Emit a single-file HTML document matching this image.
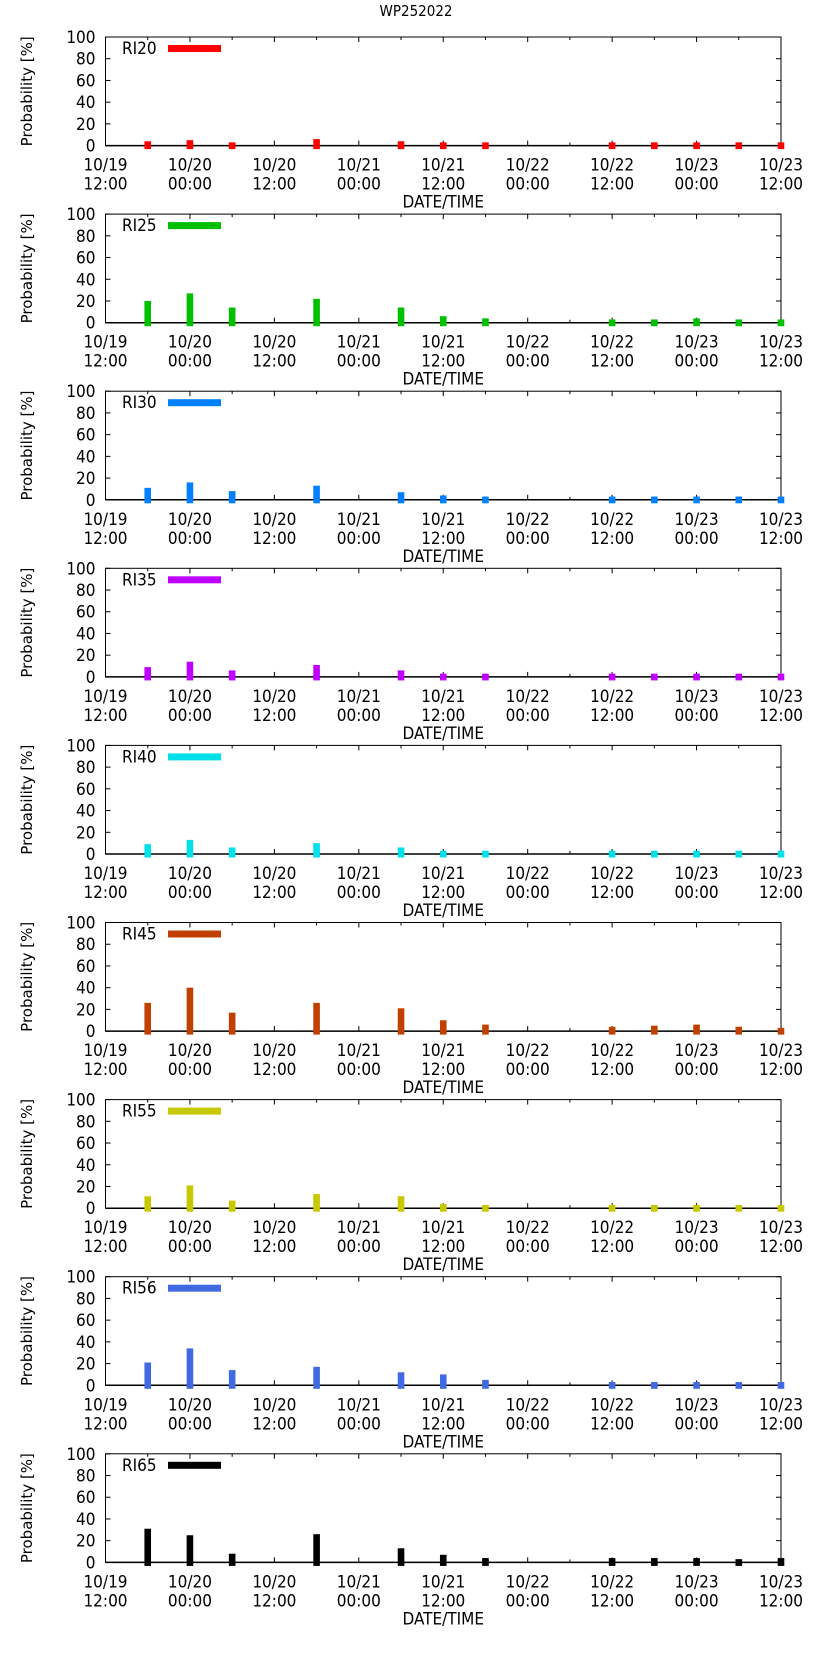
<!DOCTYPE html>
<html><head><meta charset="utf-8"><style>
body{margin:0;background:#fff}
svg{display:block;font-family:"DejaVu Sans Condensed","DejaVu Sans","Liberation Sans",sans-serif;font-stretch:condensed}
</style></head><body>
<svg id="c" width="823" height="1653">
<text x="416" y="16" font-size="15" text-anchor="middle">WP252022</text>
</svg>
<script>
const names = ["RI20","RI25","RI30","RI35","RI40","RI45","RI55","RI56","RI65"];
const colors = ["#ff0000","#00c000","#0080ff","#c000ff","#00e0e8","#c04000","#c8c800","#4169e1","#000000"];
const hours = [6,12,18,30,42,48,54,72,78,84,90,96];
const ri20 = [4,5,3,6,4,3,3,3,3,3,3,3];
const ri25 = [20,27,14,22,14,6,4,3,3,4,3,3];
const ri30 = [11,16,8,13,7,4,3,3,3,3,3,3];
const ri35 = [9,14,6,11,6,3,3,3,3,3,3,3];
const ri40 = [9,13,6,10,6,3,3,3,3,3,3,3];
const ri45 = [26,40,17,26,21,10,6,4,5,6,4,3];
const ri55 = [11,21,7,13,11,4,3,3,3,3,3,3];
const ri56 = [21,34,14,17,12,10,5,3,3,3,3,3];
const ri65 = [31,25,8,26,13,7,4,4,4,4,3,4];
const series = [ri20,ri25,ri30,ri35,ri40,ri45,ri55,ri56,ri65];
const xLabels1 = ["10/19","10/20","10/20","10/21","10/21","10/22","10/22","10/23","10/23"];
const xLabels2 = ["12:00","00:00","12:00","00:00","12:00","00:00","12:00","00:00","12:00"];
const yTicks = [0,20,40,60,80,100];

const svg = document.getElementById('c');
const NS = "http://www.w3.org/2000/svg";
const L=105.5, R=781, H=108.6, X0=37, STEP=177.1;
function mk(t,a,txt){const e=document.createElementNS(NS,t);for(const k in a)e.setAttribute(k,a[k]);if(txt!==undefined)e.textContent=txt;svg.appendChild(e);return e;}
const xs = h => L + h/96*(R-L);

series.forEach((vals,p)=>{
  const top = X0 + p*STEP, bot = top+H;
  const ys = v => bot - v/100*H;
  const g = mk('rect',{x:L,y:top,width:R-L,height:H,fill:'none',stroke:'#000','stroke-width':1});
  
  
  const ax = mk('line',{x1:L,x2:R,y1:bot,y2:bot,stroke:'#000','stroke-width':1.5});
  
  
  yTicks.forEach(t=>{
    const y=ys(t);
    mk('line',{x1:L,x2:L+5,y1:y,y2:y,stroke:'#000'});
    mk('line',{x1:R-5,x2:R,y1:y,y2:y,stroke:'#000'});
    const tl = mk('text',{x:L-10,y:y+6,'font-size':17,'text-anchor':'end'},t);
    
    
  });
  for(let h=0;h<=96;h+=6){
    const x=xs(h), len = h%12===0?5:3;
    mk('line',{x1:x,x2:x,y1:bot,y2:bot-len,stroke:'#000'});
    mk('line',{x1:x,x2:x,y1:top,y2:top+len,stroke:'#000'});
  }
  xLabels1.forEach((s,i)=>{
    const x=xs(i*12);
    const a=mk('text',{x:x,y:bot+25,'font-size':17,'text-anchor':'middle'},s);
    
    
    const b=mk('text',{x:x,y:bot+44,'font-size':17,'text-anchor':'middle'},xLabels2[i]);
    
    
  });
  const xt=mk('text',{x:(L+R)/2,y:bot+62,'font-size':17,'text-anchor':'middle'},'DATE/TIME');
  
  
  const yt=mk('text',{x:0,y:0,'font-size':15,'text-anchor':'middle','font-family':'DejaVu Sans, sans-serif','font-stretch':'normal',transform:`translate(32,${top+H/2}) rotate(-90)`},'Probability [%]');
  
  
  vals.forEach((v,i)=>{
    const x=xs(hours[i]);
    const r=mk('rect',{x:x-3.3,y:ys(v),width:6.6,height:bot+3.5-ys(v),fill:colors[p]});
    
    
  });
  const lt=mk('text',{x:122,y:top+17,'font-size':17},names[p]);
  
  
  const ls=mk('rect',{x:168,y:top+8,width:53,height:7,fill:colors[p]});
  
  
});
</script>
</body></html>
